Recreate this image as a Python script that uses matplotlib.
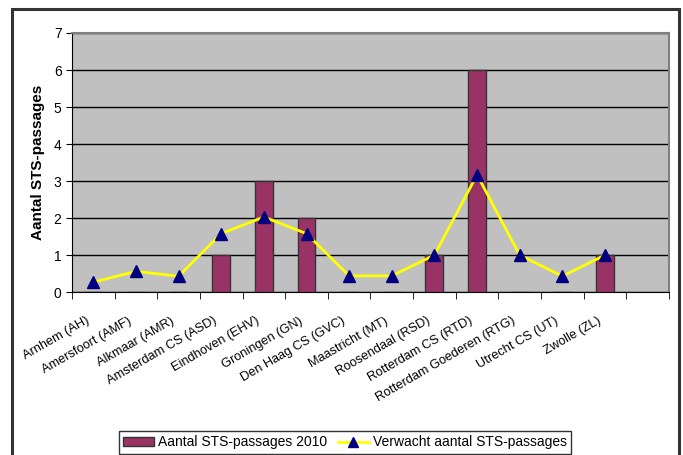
import matplotlib
matplotlib.use('Agg')
import matplotlib.pyplot as plt
import matplotlib.transforms as mtransforms
from matplotlib.patches import Rectangle
from matplotlib.lines import Line2D

plt.rcParams['font.family'] = ['Liberation Sans', 'DejaVu Sans']

stations = ['Arnhem (AH)', 'Amersfoort (AMF)', 'Alkmaar (AMR)', 'Amsterdam CS (ASD)',
            'Eindhoven (EHV)', 'Groningen (GN)', 'Den Haag CS (GVC)', 'Maastricht (MT)',
            'Roosendaal (RSD)', 'Rotterdam CS (RTD)', 'Rotterdam Goederen (RTG)',
            'Utrecht CS (UT)', 'Zwolle (ZL)']
passages_2010 = [0, 0, 0, 1, 3, 2, 0, 0, 1, 6, 0, 0, 1]
verwacht = [0.27, 0.56, 0.43, 1.58, 2.03, 1.58, 0.44, 0.44, 1.0, 3.17, 1.0, 0.43, 1.0]
y_ticks = [0, 1, 2, 3, 4, 5, 6, 7]

fig = plt.figure(figsize=(6.83, 4.55), dpi=100)
# outer chart frame
fig.patches.append(Rectangle((0.0176, -0.02), 0.9766, 1.0, transform=fig.transFigure,
                             fill=False, edgecolor='#333333', linewidth=2.2))

ax = fig.add_axes([0.1054, 0.358, 0.874, 0.5695])
ax.set_facecolor('#C0C0C0')
x = list(range(len(stations)))

ax.bar(x, passages_2010, width=0.42, color='#993366', edgecolor='#333333',
       linewidth=1.0, zorder=3)
ax.plot(x, verwacht, '-', color='#FFFF00', linewidth=2, zorder=4)
ax.plot(x, verwacht, '^', color='#000080', markersize=8, zorder=5)

ax.set_xlim(-0.5, len(stations) + 0.5)
ax.set_ylim(0, 7)
ax.set_yticks(y_ticks)
ax.yaxis.grid(True, color='black', linewidth=1.0)
ax.set_axisbelow(True)
ax.tick_params(axis='y', labelsize=10, length=4, direction='out')

ax.set_xticks(x)
ax.set_xticklabels(stations, rotation=30, ha='right', rotation_mode='anchor', fontsize=9.2)
ax.tick_params(axis='x', length=0, pad=9)
shift = mtransforms.ScaledTranslation(-0.08, -0.10, fig.dpi_scale_trans)
for lbl in ax.get_xticklabels():
    lbl.set_transform(lbl.get_transform() + shift)
ax.set_xticks([i - 0.5 for i in range(len(stations) + 2)], minor=True)
ax.tick_params(axis='x', which='minor', length=5, direction='out')

for s in ['top', 'right']:
    ax.spines[s].set_color('#808080')
    ax.spines[s].set_linewidth(1.5)
ax.spines['left'].set_color('black')
ax.spines['bottom'].set_color('black')

ax.set_ylabel('Aantal STS-passages', fontsize=11, fontweight='bold', labelpad=6)

handles = [Rectangle((0, 0), 1, 1, facecolor='#993366', edgecolor='#333333'),
           Line2D([], [], color='#FFFF00', linewidth=2, marker='^',
                  markerfacecolor='#000080', markeredgecolor='#000080', markersize=7)]
leg = fig.legend(handles, ['Aantal STS-passages 2010', 'Verwacht aantal STS-passages'],
                 loc='lower center', bbox_to_anchor=(0.505, 0.0), ncol=2, fontsize=10,
                 frameon=True, fancybox=False, edgecolor='black', borderpad=0.3,
                 handlelength=2.2, handletextpad=0.3, columnspacing=0.8, borderaxespad=0.1)
leg.get_frame().set_linewidth(1.0)

plt.savefig('out.png', dpi=100)
